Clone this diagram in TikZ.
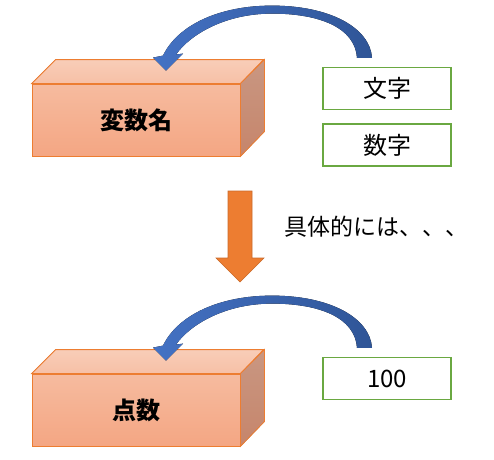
\documentclass[tikz,border=0pt]{standalone}
\usepackage{fontspec}
\setmainfont{Noto Sans CJK JP}
\usetikzlibrary{positioning}
\definecolor{portocaliu}{HTML}{ED7D31}
\definecolor{albastru}{HTML}{4472C4}
\definecolor{albastruinchis}{HTML}{2F5597}
\definecolor{fatasus}{HTML}{F6BB9F}
\definecolor{fatajos}{HTML}{F4A683}
\definecolor{capacsus}{HTML}{F8CDB8}
\definecolor{capacjos}{HTML}{F7C0A6}
\definecolor{latsus}{HTML}{C99782}
\definecolor{latjos}{HTML}{C6856B}
\definecolor{iarba}{HTML}{6AA841}
\begin{document}
\begin{tikzpicture}[x=1pt,y=-1pt,
  fata/.style={draw=portocaliu,line width=0.8pt,top color=fatasus,bottom color=fatajos,
    minimum width=208pt,minimum height=72pt,inner sep=0pt,font=\fontsize{24}{28}\selectfont\bfseries},
  caseta/.style={draw=iarba,line width=1.4pt,minimum width=128pt,minimum height=42pt,inner sep=0pt,
    font=\fontsize{24}{28}\selectfont}]
  \useasboundingbox (0,0) rectangle (494,459);
  % cutiile (fata, sus, lateral)
  \node[fata] (varname) at (136,120) {変数名};
  \node[fata] (scor) at (136,410) {点数};
  \foreach \cutie in {varname,scor} {
    \filldraw[draw=portocaliu,line width=0.8pt,top color=capacsus,bottom color=capacjos]
      (\cutie.north west) -- ++(24,-24) -- ++(208,0) -- (\cutie.north east) -- cycle;
    \filldraw[draw=portocaliu,line width=0.8pt,top color=latsus,bottom color=latjos]
      (\cutie.north east) -- ++(24,-24) -- ++(0,72) -- (\cutie.south east) -- cycle;
  }
  % casetele cu valori
  \node[caseta] (litere) at (387,88.5) {文字};
  \node[caseta,below=13pt of litere] (cifre) {数字};
  \node[caseta] (suta) at (387,378.5) {100};
  % sagetile curbe
  \foreach \sursa/\tinta in {litere/varname,suta/scor} {
    \fill[left color=albastru,right color=albastruinchis]
      ([shift={(-30,-9)}]\sursa.north)
      .. controls +(-2,-30) and +(48,0) .. ([shift={(136,-70)}]\tinta.north)
      .. controls +(-47,0) and +(14,-20) .. ([shift={(40,-29)}]\tinta.north)
      -- ([shift={(47,-30)}]\tinta.north)
      -- ([shift={(30,-13)}]\tinta.north)
      -- ([shift={(17,-26)}]\tinta.north)
      -- ([shift={(27,-28)}]\tinta.north)
      .. controls +(15,-31) and +(-52,0) .. ([shift={(136,-78)}]\tinta.north)
      .. controls +(58,0) and +(-2,-30) .. ([shift={(-15,-9)}]\sursa.north)
      -- cycle;
  }
  % sageata in jos
  \filldraw[fill=portocaliu,draw=portocaliu!85!black,line width=0.6pt]
    (228,191) -- (252,191) -- (252,258) -- (264,258) -- (240,282) -- (216,258) -- (228,258) -- cycle;
  \node[anchor=west,font=\fontsize{23}{26}\selectfont] (detalii) at (281,227) {具体的には、、、};
\end{tikzpicture}
\end{document}
